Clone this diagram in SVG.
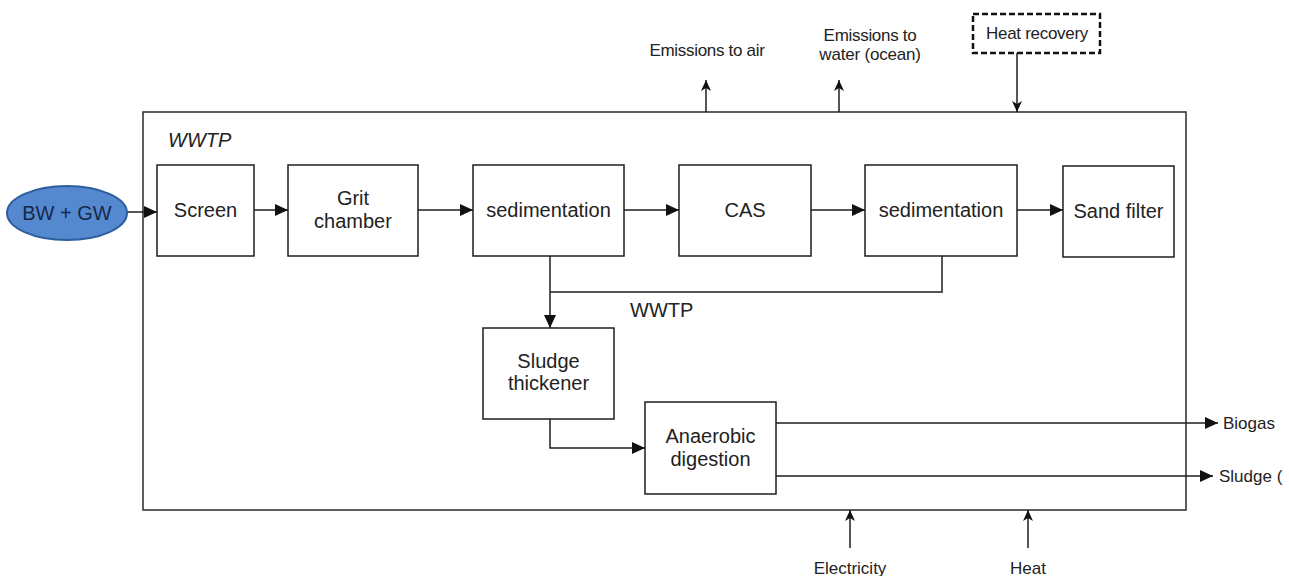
<svg xmlns="http://www.w3.org/2000/svg" width="1289" height="576" viewBox="0 0 1289 576">
<style>
  .box { fill: #ffffff; stroke: #1e1e1e; stroke-width: 1.5; }
  .t { font-family: "Liberation Sans", Arial, sans-serif; font-size: 20px; fill: #222; text-anchor: middle; }
  .s { font-family: "Liberation Sans", Arial, sans-serif; font-size: 17px; fill: #222; text-anchor: middle; }
  .e { font-family: "Liberation Sans", Arial, sans-serif; font-size: 17px; fill: #222; }
  .ln { fill: none; stroke: #1e1e1e; stroke-width: 1.5; }
  .lg { fill: none; stroke: #555; stroke-width: 2; }
  .fl { marker-end: url(#tri); }
  .op { marker-end: url(#arr); }
</style>
<defs>
  <marker id="tri" markerUnits="userSpaceOnUse" markerWidth="14" markerHeight="12" refX="13" refY="6" orient="auto">
    <path d="M0,0 L13,6 L0,12 z" fill="#111"/>
  </marker>
  <marker id="arr" markerUnits="userSpaceOnUse" markerWidth="12" markerHeight="10" refX="11" refY="5" orient="auto">
    <path d="M0,0 L11,5 L0,10 L3,5 z" fill="#111"/>
  </marker>
</defs>
<rect width="1289" height="576" fill="#ffffff"/>

<g id="wwtp-boundary">
  <rect x="143" y="112" width="1043" height="398" fill="none" stroke="#2a2a2a" stroke-width="1.5"/>
  <text x="168" y="147" class="t" style="text-anchor:start;font-style:italic">WWTP</text>
</g>

<g id="connectors">
  <line x1="127" y1="212" x2="157" y2="212" class="ln fl"/>
  <line x1="254" y1="210" x2="288" y2="210" class="ln fl"/>
  <line x1="418" y1="210" x2="473" y2="210" class="ln fl"/>
  <line x1="624" y1="210" x2="679" y2="210" class="ln fl"/>
  <line x1="811" y1="210" x2="865" y2="210" class="ln fl"/>
  <line x1="1017" y1="210" x2="1063" y2="210" class="ln fl"/>
  <polyline points="942,256 942,292 550,292" class="lg"/>
  <line x1="550" y1="256" x2="550" y2="328" class="ln fl"/>
  <polyline points="550,419 550,448 645,448" class="ln fl"/>
  <line x1="776" y1="423" x2="1218" y2="423" class="ln fl"/>
  <line x1="776" y1="476" x2="1213" y2="476" class="ln fl"/>
  <line x1="706" y1="112" x2="706" y2="80" class="ln op"/>
  <line x1="839" y1="112" x2="839" y2="80" class="ln op"/>
  <line x1="1017" y1="53" x2="1017" y2="112" class="ln op"/>
  <line x1="850" y1="548" x2="850" y2="510" class="ln op"/>
  <line x1="1028" y1="548" x2="1028" y2="510" class="ln op"/>
  <text x="630" y="317" class="t" style="text-anchor:start">WWTP</text>
</g>

<g id="bw-gw">
  <ellipse cx="67" cy="213" rx="60" ry="27" fill="#5489cf" stroke="#2d5f9c" stroke-width="2"/>
  <text x="67" y="220" class="t" style="fill:#17284a">BW + GW</text>
</g>

<g id="screen">
  <rect x="157" y="165" width="97" height="91" class="box"/>
  <text x="205.5" y="217" class="t">Screen</text>
</g>

<g id="grit-chamber">
  <rect x="288" y="165" width="130" height="91" class="box"/>
  <text x="353" y="205" class="t">Grit</text>
  <text x="353" y="228" class="t">chamber</text>
</g>

<g id="sedimentation-1">
  <rect x="473" y="165" width="151" height="91" class="box"/>
  <text x="548.5" y="217" class="t">sedimentation</text>
</g>

<g id="cas">
  <rect x="679" y="165" width="132" height="91" class="box"/>
  <text x="745" y="217" class="t">CAS</text>
</g>

<g id="sedimentation-2">
  <rect x="865" y="165" width="152" height="91" class="box"/>
  <text x="941" y="217" class="t">sedimentation</text>
</g>

<g id="sand-filter">
  <rect x="1063" y="166" width="111" height="91" class="box"/>
  <text x="1118.5" y="218" class="t">Sand filter</text>
</g>

<g id="sludge-thickener">
  <rect x="483" y="328" width="131" height="91" class="box"/>
  <text x="548.5" y="368" class="t">Sludge</text>
  <text x="548.5" y="390" class="t">thickener</text>
</g>

<g id="anaerobic-digestion">
  <rect x="645" y="402" width="131" height="92" class="box"/>
  <text x="710.5" y="443" class="t">Anaerobic</text>
  <text x="710.5" y="466" class="t">digestion</text>
</g>

<g id="heat-recovery">
  <rect x="973" y="14" width="127" height="39" fill="#ffffff" stroke="#111" stroke-width="2.5" stroke-dasharray="6,3"/>
  <text x="1037" y="39" class="s" style="letter-spacing:-0.3px">Heat recovery</text>
</g>

<g id="emissions-air">
  <text x="707" y="56" class="s" style="letter-spacing:-0.3px">Emissions to air</text>
</g>

<g id="emissions-water">
  <text x="870" y="41" class="s" style="letter-spacing:-0.3px">Emissions to</text>
  <text x="870" y="60" class="s" style="letter-spacing:-0.2px">water (ocean)</text>
</g>

<g id="biogas">
  <text x="1223" y="429" class="e">Biogas</text>
</g>

<g id="sludge-out">
  <text x="1219" y="482" class="e">Sludge (</text>
</g>

<g id="electricity">
  <text x="850" y="574" class="s">Electricity</text>
</g>

<g id="heat">
  <text x="1028" y="574" class="s">Heat</text>
</g>
</svg>
